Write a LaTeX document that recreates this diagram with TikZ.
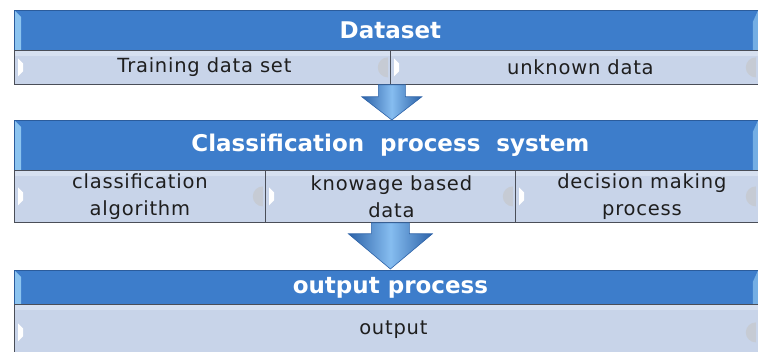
\documentclass[tikz,border=0pt]{standalone}
\usepackage{fontspec}
\setmainfont{DejaVu Sans}
\newfontfamily\cellfont[LetterSpace=4]{DejaVu Sans}
\usetikzlibrary{calc}
\definecolor{hdrblue}{HTML}{3D7DCB}
\definecolor{hdrline}{HTML}{2B5C9C}
\definecolor{hdredge}{HTML}{8CC4F0}
\definecolor{cellfill}{HTML}{C8D4E9}
\definecolor{celltop}{HTML}{D6E0F0}
\definecolor{cellline}{HTML}{4A4E58}
\definecolor{celltext}{HTML}{1E1E1E}
\definecolor{arrdark}{HTML}{2C62A8}
\definecolor{arrmid}{HTML}{3F7DCA}
\definecolor{arrlight}{HTML}{86BDF0}
\tikzset{
  hdr/.style={draw=hdrline, line width=0.8pt, fill=hdrblue, inner sep=0pt, anchor=north west},
  hdrtext/.style={text=white, font=\bfseries\fontsize{23}{26}\selectfont, inner sep=0pt},
  cell/.style={draw=cellline, line width=0.8pt, fill=cellfill, inner sep=0pt, anchor=north west},
  celltext/.style={text=celltext, font=\cellfont\fontsize{19.5}{27}\selectfont, align=center, inner sep=0pt},
  blockarrow/.style={left color=arrdark, right color=arrdark, middle color=arrlight,
    draw=arrdark, line width=0.6pt, line join=miter},
  bevel/.style={fill=white, draw=none},
  rbevel/.style={fill=gray!45, draw=none, opacity=0.6},
}
\begin{document}
\begin{tikzpicture}[x=1pt,y=-1pt]
\useasboundingbox (0,0) rectangle (758,352);
% Block 1
\node[hdr, minimum width=744pt, minimum height=40pt] (h1) at (14,10) {};
\node[cell, minimum width=376pt, minimum height=34pt] (a1) at (14,50) {};
\node[cell, minimum width=368pt, minimum height=34pt] (b1) at (390,50) {};
% Block 2
\node[hdr, minimum width=744pt, minimum height=50pt] (h2) at (14,120) {};
\node[cell, minimum width=251pt, minimum height=52pt] (a2) at (14,170) {};
\node[cell, minimum width=250pt, minimum height=52pt] (b2) at (265,170) {};
\node[cell, minimum width=243pt, minimum height=52pt] (c2) at (515,170) {};
% Block 3
\node[hdr, minimum width=744pt, minimum height=34pt] (h3) at (14,270) {};
\node[cell, minimum width=744pt, minimum height=56pt] (a3) at (14,304) {};
% header bevel edges
\foreach \h in {h1,h2,h3}{
  \fill[hdredge] ($(\h.north west)+(1,1)$) -- ($(\h.north west)+(7,7)$) -- ($(\h.south west)+(7,-1)$) -- ($(\h.south west)+(1,-1)$) -- cycle;
  \fill[hdredge,opacity=0.7] ($(\h.north east)+(-1,1)$) -- ($(\h.north east)+(-6,12)$) -- ($(\h.south east)+(-6,-1)$) -- ($(\h.south east)+(-1,-1)$) -- cycle;
}
% cell bevels
\foreach \c in {a1,b1,a2,b2,c2,a3}{
  \fill[celltop] ($(\c.north west)+(1,1)$) rectangle ($(\c.north east)+(-1,6)$);
  \fill[bevel] ($(\c.west)+(4,-9)$) -- ($(\c.west)+(9,-4)$) -- ($(\c.west)+(9,4)$) -- ($(\c.west)+(4,9)$) -- cycle;
  \fill[rbevel] ($(\c.east)+(-3,-10)$) arc[start angle=90,end angle=270,radius=10pt] -- cycle;
}
% header texts
\node[hdrtext] (th1) at ($(h1.center)+(4,0)$) {Dataset};
\node[hdrtext] (th2) at ($(h2.center)+(4,0)$) {Classification\ \ process\ \ system};
\node[hdrtext] (th3) at ($(h3.center)+(4,0)$) {output process};
% cell texts
\node[celltext] (ta1) at ($(a1.center)+(2,0)$) {Training data set};
\node[celltext] (tb1) at ($(b1.center)+(6,0)$) {unknown data};
\node[celltext] (ta2) at (a2.center) {classification\\algorithm};
\node[celltext] (tb2) at ($(b2.center)+(1,0)$) {knowage based\\data};
\node[celltext] (tc2) at ($(c2.center)+(5,0)$) {decision making\\process};
\node[celltext] (ta3) at ($(a3.center)+(7,-3)$) {output};
% arrows (from row above to header below)
\coordinate (s1) at ($(a1.south east)+(1,0)$);
\coordinate (e1) at (s1 |- h2.north);
\path[blockarrow] ($(s1)+(-13.5,0)$) -- ($(s1)+(-13.5,12)$) -- ($(s1)+(-30,12)$) -- (e1)
   -- ($(s1)+(30,12)$) -- ($(s1)+(13.5,12)$) -- ($(s1)+(13.5,0)$) -- cycle;
\coordinate (s2) at (b2.south);
\coordinate (e2) at ($(s2 |- h3.north)+(0,-1)$);
\path[blockarrow] ($(s2)+(-19,0)$) -- ($(s2)+(-19,11)$) -- ($(s2)+(-42,11)$) -- (e2)
   -- ($(s2)+(42,11)$) -- ($(s2)+(19,11)$) -- ($(s2)+(19,0)$) -- cycle;
\end{tikzpicture}
\end{document}
